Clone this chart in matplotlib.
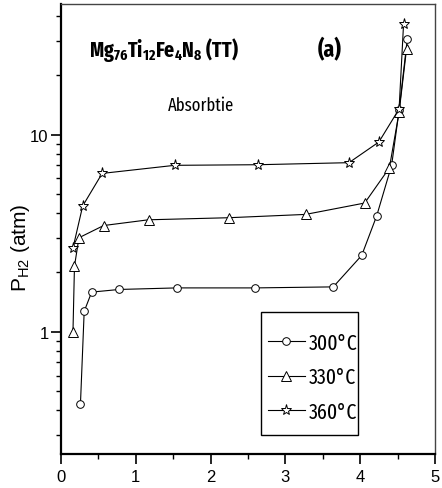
import matplotlib
matplotlib.use("Agg")
import matplotlib.pyplot as plt
from matplotlib import font_manager
from matplotlib.patches import Rectangle

fonts = font_manager.fontManager.ttflist
def pick(cands, weight=400):
    for c in cands:
        ws = [f.weight for f in fonts if f.name == c]
        if any(abs((w if isinstance(w, int) else 400) - weight) <= 100 for w in ws):
            return c
    return "Liberation Sans"
NARROW = pick(["Fira Sans Extra Condensed", "Barlow Condensed", "Roboto Condensed"], 400)
NARROWB = pick(["Fira Sans Extra Condensed", "Barlow Condensed", "Roboto Condensed"], 700)
REG = "Liberation Sans"

plt.rcParams["mathtext.fontset"] = "custom"
plt.rcParams["mathtext.bf"] = NARROWB + ":bold"
plt.rcParams["mathtext.rm"] = REG

# data: hydrogen content (x) and pressure P_H2 (atm)
x300 = [0.26, 0.31, 0.41, 0.78, 1.55, 2.60, 3.64, 4.02, 4.22, 4.42, 4.52, 4.63]
y300 = [0.43, 1.27, 1.59, 1.64, 1.67, 1.67, 1.69, 2.44, 3.87, 6.99, 13.3, 30.7]
x330 = [0.16, 0.18, 0.24, 0.57, 1.17, 2.24, 3.27, 4.06, 4.39, 4.52, 4.62]
y330 = [1.00, 2.15, 3.00, 3.46, 3.70, 3.79, 3.94, 4.50, 6.78, 13.0, 27.3]
x360 = [0.16, 0.29, 0.55, 1.52, 2.64, 3.85, 4.25, 4.52, 4.58]
y360 = [2.66, 4.35, 6.36, 6.99, 7.04, 7.21, 9.18, 13.5, 36.6]
labels = ["300°C", "330°C", "360°C"]

fig = plt.figure(figsize=(4.42, 4.89), dpi=100)
ax = fig.add_axes([61/442, 1-455/489, (435-61)/442, (455-5)/489])

kw = dict(color="black", lw=0.8, mfc="white", mec="black", mew=0.7)
ax.plot(x300, y300, marker="o", ms=5.5, label=labels[0], **kw)
ax.plot(x330, y330, marker="^", ms=6.5, label=labels[1], **kw)
ax.plot(x360, y360, marker="*", ms=8, label=labels[2], **kw)

ax.set_yscale("log")
ax.set_xlim(0, 5)
ax.set_ylim(0.24, 46)
ax.set_xticks([0, 1, 2, 3, 4, 5])
ax.set_xticks([0.5, 1.5, 2.5, 3.5, 4.5], minor=True)
ax.set_yticks([1, 10])
ax.set_yticklabels(["1", "10"])

for lab in ax.get_xticklabels() + ax.get_yticklabels():
    lab.set_fontfamily(REG)
    lab.set_fontsize(12)

ax.tick_params(which="major", direction="out", length=7, width=1.2)
ax.tick_params(which="minor", direction="out", length=3.6, width=1)
ax.tick_params(axis="x", pad=4)
ax.tick_params(axis="y", pad=2)

for s in ["left", "bottom"]:
    ax.spines[s].set_linewidth(1.6)
    ax.spines[s].set_color("black")
for s in ["top", "right"]:
    ax.spines[s].set_linewidth(1.0)
    ax.spines[s].set_color("#444444")

fig.text(21/442, 1-248/489, r"P$_{\mathregular{H2}}$ (atm)", fontfamily=REG,
         fontsize=15, rotation=90, va="center", ha="center")

fig.text(89/442, 1-50/489, r"$\mathbf{Mg_{76}Ti_{12}Fe_{4}N_{8}}$ (TT)", fontfamily=NARROWB,
         fontsize=15.5, fontweight="bold", va="center", ha="left")
fig.text(318/442, 1-50/489, "(a)", fontfamily=NARROWB, fontsize=17,
         fontweight="bold", va="center", ha="left")
fig.text(168/442, 1-106/489, "Absorbtie", fontfamily=NARROW, fontsize=13,
         va="center", ha="left")

leg = ax.legend(loc="center left", bbox_to_anchor=((268-61)/374, 1-(378-5)/450),
                prop={"family": NARROW, "size": 15.5}, frameon=False,
                handlelength=1.7, handletextpad=0.2,
                labelspacing=0.6, borderpad=0, borderaxespad=0)
ax.add_patch(Rectangle(((261-61)/374, 1-(436-5)/450), (358-261)/374, (436-313)/450,
                       transform=ax.transAxes, fill=False, ec="black", lw=1.0, zorder=5))

fig.savefig("out.png", dpi=100)
